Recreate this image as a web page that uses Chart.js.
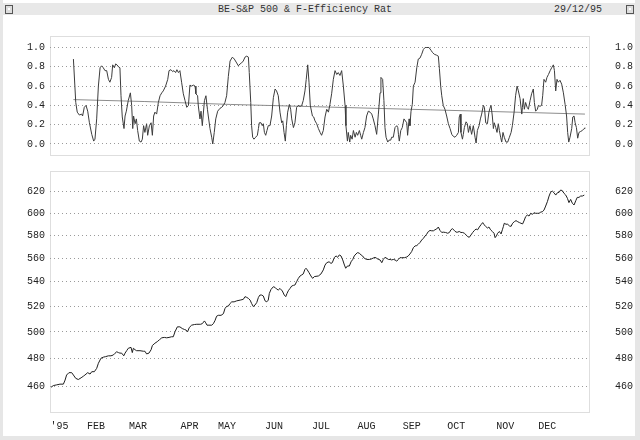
<!DOCTYPE html>
<html lang="en">
<head>
<meta charset="UTF-8">
<title>BE-S&amp;P 500 &amp; F-Efficiency Rat</title>
<script src="https://cdn.jsdelivr.net/npm/chart.js@4.4.1/dist/chart.umd.min.js"></script>
<style>
  body { margin: 0; width: 640px; height: 440px; position: relative; overflow: hidden; background: #fff;
         font-family: "Liberation Mono", monospace; }
  .frame { position: absolute; background: #e6e6e6; z-index: 2; }
  #titlebar { position: absolute; left: 3px; top: 3px; width: 632px; height: 12px; background: #e8e8e8; z-index: 3;
              font-size: 10px; line-height: 12px; color: #333; }
  #title { position: absolute; left: 215px; top: 1px; white-space: pre; }
  #date { position: absolute; left: 551px; top: 1px; }
  .icon { position: absolute; top: 2px; width: 6px; height: 7px; border: 1px solid #555; background: #ddd; }
  .icon i { position: absolute; left: 2px; top: 2px; width: 2px; height: 2px; background: #fff; }
  canvas { position: absolute; left: 0; }
</style>
</head>
<body>
<div id="titlebar">
  <div class="icon" style="left:2px"><i></i></div>
  <span id="title">BE-S&amp;P 500 &amp; F-Efficiency Rat</span>
  <span id="date">29/12/95</span>
  <div class="icon" style="left:623px"><i></i></div>
</div>
<div class="frame" style="left:0;top:0;width:3px;height:440px"></div>
<div class="frame" style="left:635px;top:0;width:5px;height:440px"></div>
<div class="frame" style="left:0;top:436px;width:640px;height:4px"></div>

<canvas id="erChart" width="640" height="159" style="top:16px"></canvas>
<canvas id="priceChart" width="640" height="289" style="top:151px"></canvas>

<script>
// x axis: trading day of 1995 (0 = first session)
const monthDays = [4.0, 21.1, 40.8, 64.9, 82.5, 104.5, 126.5, 147.8, 169.0, 189.9, 212.9, 232.5];
const monthLabels = ["'95", 'FEB', 'MAR', 'APR', 'MAY', 'JUN', 'JUL', 'AUG', 'SEP', 'OCT', 'NOV', 'DEC'];

// efficiency ratio (top panel)
const erTicks = [0, 0.2, 0.4, 0.6, 0.8, 1.0];
const erDays = [10.5, 11.6, 12.3, 13.3, 14.4, 14.8, 15.6, 16.4, 17.2, 18.0, 19.1, 20.0, 20.6, 21.4, 22.2, 23.0, 23.7, 24.5, 25.3, 26.1,
  26.9, 27.6, 28.4, 28.9, 29.7, 30.3, 30.9, 31.6, 32.3, 32.8, 33.4, 34.2, 34.7, 35.3, 36.2, 37.2, 37.8, 38.3, 38.7, 39.4,
  40.0, 40.6, 41.4, 42.2, 42.8, 43.4, 44.0, 44.8, 45.3, 46.1, 46.9, 47.5, 48.1, 48.7, 49.5, 50.3, 51.1, 51.9, 52.6, 53.7,
  54.7, 55.3, 56.2, 57.0, 57.6, 58.4, 59.0, 59.7, 60.4, 61.2, 62.0, 62.8, 63.6, 64.4, 65.1, 65.9, 66.7, 67.5, 67.9, 68.7,
  69.0, 69.8, 70.3, 70.9, 71.9, 72.6, 73.3, 73.7, 74.5, 75.3, 75.8, 76.5, 77.2, 78.1, 79.2, 80.0, 80.8, 81.5, 82.3, 83.1,
  83.9, 85.0, 85.9, 87.0, 87.8, 88.6, 89.3, 90.1, 90.9, 91.7, 92.5, 92.9, 93.6, 94.0, 94.5, 95.1, 95.9, 96.7, 97.2, 97.6,
  98.4, 99.0, 99.5, 100.0, 100.6, 101.2, 101.8, 102.6, 103.4, 104.2, 105.0, 105.7, 106.5, 107.3, 108.1, 108.6, 109.2, 109.8, 110.3, 110.9,
  111.7, 112.3, 112.8, 113.6, 114.3, 115.1, 115.9, 116.7, 117.5, 118.2, 119.0, 119.6, 120.3, 120.9, 121.5, 122.5, 123.1, 123.7, 124.5, 125.3,
  126.1, 126.8, 127.6, 128.4, 129.2, 130.0, 130.7, 131.5, 132.3, 133.1, 133.9, 134.6, 135.4, 136.2, 137.0, 137.8, 138.2, 138.9, 139.3, 140.0,
  140.4, 141.1, 141.7, 142.5, 143.1, 143.7, 144.5, 145.1, 145.6, 146.4, 147.1, 147.9, 148.7, 149.5, 150.3, 151.0, 151.8, 152.6, 153.4, 154.2,
  154.6, 155.4, 156.0, 156.5, 157.0, 157.8, 158.4, 159.2, 159.6, 160.4, 161.2, 162.0, 162.5, 162.8, 163.2, 163.9, 164.6, 165.4, 166.7, 167.1,
  167.8, 168.2, 168.7, 169.3, 169.8, 170.6, 171.4, 172.1, 172.9, 173.7, 174.5, 175.3, 176.0, 177.1, 178.1, 178.7, 179.6, 180.7, 181.5, 182.0,
  182.6, 183.1, 183.8, 184.6, 185.4, 186.2, 187.0, 187.8, 188.5, 189.3, 190.1, 190.9, 191.3, 191.8, 192.1, 192.8, 193.2, 193.7, 194.5, 195.1,
  195.6, 196.3, 197.1, 197.9, 198.7, 199.2, 199.8, 200.6, 201.2, 201.8, 202.6, 203.1, 203.7, 204.5, 205.2, 205.7, 206.2, 206.8, 207.3, 207.7,
  208.4, 209.0, 209.6, 210.1, 210.7, 211.2, 211.8, 212.4, 213.2, 214.0, 214.8, 215.6, 216.2, 217.0, 217.7, 218.4, 219.0, 219.8, 220.6, 220.9,
  221.3, 221.8, 222.4, 223.1, 223.7, 224.5, 225.2, 226.0, 226.5, 227.1, 227.9, 228.4, 229.1, 229.9, 230.4, 231.0, 231.8, 232.4, 233.1, 233.9,
  234.6, 235.4, 235.9, 236.5, 237.1, 237.7, 238.5, 239.3, 240.1, 240.9, 241.6, 242.1, 242.6, 243.2, 244.0, 244.5, 245.1, 245.6, 246.2, 246.8,
  247.4, 248.2, 249.0, 249.8, 250.2];
const erVals = [0.88, 0.43, 0.33, 0.30, 0.31, 0.29, 0.38, 0.40, 0.34, 0.22, 0.10, 0.03, 0.05, 0.26, 0.60, 0.79, 0.81, 0.79, 0.76, 0.76,
  0.67, 0.64, 0.69, 0.82, 0.79, 0.83, 0.82, 0.80, 0.79, 0.50, 0.28, 0.16, 0.29, 0.34, 0.45, 0.53, 0.40, 0.16, 0.29, 0.21,
  0.26, 0.14, 0.03, 0.02, 0.05, 0.19, 0.12, 0.21, 0.09, 0.19, 0.22, 0.09, 0.29, 0.33, 0.31, 0.43, 0.50, 0.53, 0.55, 0.60,
  0.67, 0.76, 0.77, 0.75, 0.76, 0.74, 0.77, 0.74, 0.76, 0.64, 0.52, 0.45, 0.38, 0.40, 0.61, 0.60, 0.61, 0.60, 0.52, 0.50,
  0.40, 0.26, 0.34, 0.19, 0.45, 0.50, 0.36, 0.29, 0.16, 0.07, 0.00, 0.12, 0.26, 0.34, 0.37, 0.38, 0.40, 0.43, 0.50, 0.70,
  0.86, 0.90, 0.88, 0.84, 0.81, 0.83, 0.84, 0.86, 0.90, 0.91, 0.90, 0.74, 0.43, 0.19, 0.07, 0.05, 0.07, 0.09, 0.16, 0.22,
  0.22, 0.19, 0.21, 0.12, 0.09, 0.14, 0.19, 0.19, 0.29, 0.48, 0.57, 0.55, 0.50, 0.33, 0.22, 0.24, 0.12, 0.03, 0.19, 0.33,
  0.41, 0.36, 0.26, 0.17, 0.22, 0.38, 0.40, 0.39, 0.40, 0.45, 0.55, 0.67, 0.82, 0.64, 0.40, 0.29, 0.28, 0.24, 0.21, 0.16,
  0.12, 0.09, 0.14, 0.28, 0.36, 0.33, 0.41, 0.52, 0.67, 0.76, 0.72, 0.74, 0.71, 0.76, 0.60, 0.40, 0.19, 0.03, 0.12, 0.02,
  0.09, 0.05, 0.14, 0.07, 0.12, 0.09, 0.14, 0.09, 0.05, 0.12, 0.17, 0.29, 0.34, 0.33, 0.31, 0.26, 0.19, 0.10, 0.31, 0.53,
  0.69, 0.67, 0.45, 0.17, 0.07, 0.02, 0.04, 0.04, 0.07, 0.07, 0.17, 0.19, 0.17, 0.10, 0.03, 0.14, 0.17, 0.26, 0.22, 0.09,
  0.26, 0.19, 0.34, 0.41, 0.60, 0.64, 0.79, 0.88, 0.89, 0.93, 0.98, 1.00, 1.00, 1.00, 0.97, 0.95, 0.93, 0.92, 0.91, 0.78,
  0.60, 0.50, 0.40, 0.36, 0.29, 0.21, 0.16, 0.10, 0.08, 0.07, 0.09, 0.12, 0.28, 0.31, 0.12, 0.05, 0.10, 0.17, 0.23, 0.21,
  0.12, 0.19, 0.10, 0.19, 0.07, 0.01, 0.14, 0.19, 0.26, 0.31, 0.40, 0.38, 0.22, 0.21, 0.33, 0.37, 0.40, 0.29, 0.16, 0.22,
  0.17, 0.12, 0.21, 0.14, 0.07, 0.02, 0.12, 0.07, 0.02, 0.02, 0.07, 0.12, 0.19, 0.33, 0.50, 0.60, 0.55, 0.47, 0.31, 0.38,
  0.47, 0.36, 0.43, 0.38, 0.36, 0.45, 0.52, 0.57, 0.43, 0.34, 0.36, 0.40, 0.39, 0.40, 0.50, 0.67, 0.64, 0.69, 0.72, 0.76,
  0.79, 0.82, 0.76, 0.55, 0.67, 0.64, 0.66, 0.62, 0.53, 0.41, 0.29, 0.12, 0.02, 0.07, 0.16, 0.28, 0.29, 0.22, 0.17, 0.06,
  0.12, 0.13, 0.14, 0.16, 0.17];
const erAvgDays = [10.5, 44, 84, 168, 250.2];
const erAvgVals = [0.46, 0.44, 0.41, 0.36, 0.31];

// S&P 500 close (bottom panel, log scale)
const priceTicks = [460, 480, 500, 520, 540, 560, 580, 600, 620];
const priceDays = [0, 1.1, 2.7, 4.2, 5.8, 6.6, 7.3, 8.4, 9.7, 10.5, 11.6, 12.8, 14.1, 15.2, 15.9, 17.2, 18.3, 19.1, 20.3, 21.4,
  22.2, 23.4, 24.5, 25.6, 26.9, 28.1, 29.2, 30.0, 30.8, 31.6, 32.3, 33.1, 34.1, 34.7, 35.5, 36.2, 37.5, 38.1, 38.6, 39.4,
  40.1, 41.7, 43.3, 44.0, 44.8, 45.9, 46.9, 47.5, 48.7, 49.8, 50.8, 51.9, 53.1, 54.2, 55.3, 56.5, 57.3, 58.1, 59.2, 60.4,
  61.5, 62.5, 63.3, 64.0, 64.8, 65.9, 67.2, 68.3, 69.4, 70.1, 70.9, 71.9, 72.5, 73.1, 74.0, 75.3, 76.1, 76.9, 77.6, 78.4,
  79.7, 80.8, 81.5, 82.3, 83.1, 83.9, 84.7, 85.8, 87.0, 88.6, 90.1, 90.9, 91.7, 92.5, 93.3, 94.0, 94.8, 95.6, 96.4, 97.2,
  97.9, 98.7, 99.5, 100.3, 101.1, 101.8, 102.3, 103.1, 104.2, 105.0, 105.7, 106.5, 107.3, 108.4, 109.3, 110.0, 110.6, 111.2, 112.0, 112.8,
  113.6, 114.3, 115.1, 115.9, 116.7, 117.5, 118.2, 119.0, 119.5, 120.1, 120.9, 121.8, 122.6, 123.4, 125.3, 126.5, 127.6, 128.4, 129.2, 130.3,
  131.2, 131.8, 132.8, 133.6, 134.3, 135.1, 135.9, 136.7, 137.5, 138.1, 138.9, 139.8, 140.6, 141.4, 142.1, 142.9, 143.7, 144.5, 145.3, 146.0,
  146.8, 147.9, 149.2, 150.0, 151.0, 151.8, 152.6, 153.4, 154.2, 155.0, 155.7, 156.5, 157.3, 158.1, 158.9, 159.6, 160.4, 161.2, 162.0, 162.8,
  163.5, 164.3, 165.6, 166.7, 167.4, 168.2, 169.0, 169.8, 170.6, 171.4, 172.1, 172.9, 173.7, 174.5, 175.3, 176.0, 176.8, 177.6, 178.4, 179.2,
  179.9, 180.7, 181.5, 182.3, 183.1, 183.8, 184.9, 185.9, 186.7, 187.4, 188.1, 189.0, 189.8, 190.6, 191.3, 192.1, 192.9, 193.7, 194.5, 195.3,
  196.0, 196.8, 197.6, 198.4, 199.2, 199.9, 200.7, 201.5, 202.3, 202.9, 203.7, 204.5, 205.2, 206.0, 206.8, 207.6, 208.1, 208.7, 209.3, 210.1,
  210.9, 211.5, 212.0, 212.4, 213.2, 214.0, 214.8, 215.6, 216.3, 217.1, 217.9, 218.7, 219.5, 220.2, 221.0, 221.8, 222.4, 223.2, 224.0, 224.8,
  225.6, 226.3, 227.1, 227.9, 228.7, 229.5, 230.2, 231.0, 231.8, 232.6, 233.4, 234.1, 234.9, 235.7, 236.5, 237.3, 238.1, 238.8, 239.6, 240.4,
  241.2, 242.0, 242.7, 243.5, 244.3, 245.1, 245.9, 246.6, 247.4, 248.2, 249.0, 249.9];
const priceVals = [459.3, 460.5, 461.0, 461.5, 461.5, 464.4, 468.0, 469.7, 469.7, 468.0, 465.6, 464.8, 466.0, 467.2, 468.0, 469.7, 468.7, 470.4, 470.4, 472.8,
  476.5, 480.2, 481.0, 481.4, 482.0, 482.0, 482.6, 483.9, 485.0, 484.4, 484.0, 484.0, 482.0, 484.0, 485.9, 487.6, 488.3, 484.4, 487.6, 486.5,
  485.8, 485.8, 485.4, 485.4, 483.4, 484.0, 486.5, 489.7, 491.4, 492.6, 494.0, 495.5, 495.8, 495.5, 495.8, 496.3, 496.3, 500.1, 503.9, 503.9,
  502.6, 501.9, 501.4, 500.1, 503.4, 505.2, 505.7, 505.9, 505.9, 505.9, 506.4, 508.5, 507.0, 505.2, 505.2, 505.2, 506.4, 509.0, 512.2, 512.9,
  512.9, 514.2, 518.2, 520.0, 520.2, 522.3, 523.6, 523.6, 524.4, 525.0, 525.6, 527.8, 527.2, 526.4, 525.0, 522.3, 519.8, 521.1, 523.0, 527.2,
  529.1, 529.1, 528.3, 524.4, 523.6, 525.0, 530.4, 533.7, 535.9, 535.3, 534.0, 533.2, 534.5, 532.4, 529.1, 527.8, 530.4, 532.6, 534.5, 536.5,
  537.0, 537.3, 540.1, 542.8, 544.8, 545.7, 546.5, 550.4, 551.3, 549.9, 547.6, 544.8, 542.8, 544.3, 544.8, 546.5, 549.9, 554.0, 556.0, 556.8,
  555.4, 556.0, 560.6, 561.8, 560.6, 562.7, 561.8, 558.4, 554.0, 551.3, 553.2, 553.2, 556.8, 558.8, 561.8, 563.5, 564.7, 564.1, 562.7, 561.8,
  559.8, 558.8, 558.8, 559.1, 560.0, 560.6, 559.8, 558.8, 558.4, 556.0, 558.8, 560.6, 559.8, 558.8, 558.8, 558.4, 558.8, 558.4, 557.4, 558.8,
  560.3, 560.3, 560.3, 560.9, 561.8, 563.5, 565.6, 569.0, 570.5, 570.8, 572.0, 573.5, 575.7, 577.2, 579.3, 580.8, 583.2, 584.2, 583.9, 583.9,
  584.8, 585.5, 587.3, 584.2, 582.4, 582.7, 582.4, 581.7, 582.4, 584.8, 585.8, 584.2, 582.7, 582.7, 583.3, 582.4, 582.4, 581.7, 580.2, 578.7,
  578.1, 580.2, 582.4, 584.2, 585.5, 584.8, 587.3, 589.4, 591.3, 589.4, 587.9, 586.4, 587.3, 584.8, 583.3, 581.7, 577.8, 579.3, 581.7, 583.3,
  581.1, 584.8, 587.9, 590.7, 589.8, 589.8, 588.3, 587.9, 590.7, 592.1, 593.1, 592.1, 591.3, 590.7, 590.1, 593.6, 596.7, 598.2, 597.3, 599.8,
  598.8, 600.3, 599.8, 599.8, 599.8, 600.9, 601.2, 602.7, 606.5, 610.6, 615.9, 619.4, 620.6, 619.0, 616.8, 619.0, 619.4, 621.6, 621.0, 618.4,
  616.8, 613.7, 609.7, 612.7, 609.1, 607.5, 611.5, 614.6, 614.6, 615.9, 615.9, 616.8];

const xMin = -0.47, xMax = 252.1;
const labelFont = { family: '"Liberation Mono", monospace', size: 10 };
const textColor = '#222';

const toPoints = (xs, ys) => xs.map((x, i) => ({ x: x, y: ys[i] }));

// light frame round each plot area
const panelFrame = {
  id: 'panelFrame',
  beforeDraw(chart) {
    const a = chart.chartArea, ctx = chart.ctx;
    ctx.save();
    ctx.strokeStyle = '#dedede';
    ctx.lineWidth = 1;
    ctx.strokeRect(a.left + 0.5, a.top + 0.5, a.right - a.left, a.bottom - a.top);
    ctx.restore();
  }
};

// left axis draws the dotted grid; right axis only repeats the labels.
// an invisible tick length pushes the right labels out without adding vertical padding.
function yAxis(side, type, min, max, tickList, fmt) {
  const left = side === 'left';
  return {
    type: type,
    position: side,
    min: min,
    max: max,
    bounds: 'data',
    afterBuildTicks: s => { s.ticks = tickList.map(v => ({ value: v })); },
    afterFit: s => { s.width = left ? 50 : 51; },
    grid: left
      ? { display: true, color: '#9a9a9a', lineWidth: 1, drawTicks: true, tickLength: 2, tickColor: 'rgba(0,0,0,0)' }
      : { display: false, drawTicks: true, tickLength: 23 },
    border: { display: false, dash: [1, 3] },
    ticks: { padding: 3, font: labelFont, color: textColor, callback: fmt }
  };
}

const baseOptions = {
  responsive: false,
  animation: false,
  events: [],
  plugins: { legend: { display: false }, tooltip: { enabled: false } }
};

new Chart(document.getElementById('erChart'), {
  type: 'line',
  data: {
    datasets: [
      { data: toPoints(erDays, erVals), borderColor: '#3c3c3c', borderWidth: 1, pointRadius: 0, tension: 0 },
      { data: toPoints(erAvgDays, erAvgVals), borderColor: '#8c8c8c', borderWidth: 1, pointRadius: 0, tension: 0 }
    ]
  },
  options: Object.assign({}, baseOptions, {
    layout: { padding: { top: 20, bottom: 20, left: 0, right: 0 } },
    scales: {
      x: { type: 'linear', min: xMin, max: xMax, display: false },
      y: yAxis('left', 'linear', -0.114, 1.119, erTicks, v => v.toFixed(1)),
      y2: yAxis('right', 'linear', -0.114, 1.119, erTicks, v => v.toFixed(1))
    }
  }),
  plugins: [panelFrame]
});

new Chart(document.getElementById('priceChart'), {
  type: 'line',
  data: {
    datasets: [
      { data: toPoints(priceDays, priceVals), borderColor: '#1e1e1e', borderWidth: 1, pointRadius: 0, tension: 0 }
    ]
  },
  options: Object.assign({}, baseOptions, {
    layout: { padding: { top: 20, bottom: 0, left: 0, right: 0 } },
    scales: {
      x: {
        type: 'linear', min: xMin, max: xMax, bounds: 'data',
        afterBuildTicks: s => { s.ticks = monthDays.map(v => ({ value: v })); },
        afterFit: s => { s.height = 28; },
        grid: { display: false, drawTicks: false },
        border: { display: false },
        ticks: { autoSkip: false, maxRotation: 0, padding: 8, font: labelFont, color: textColor,
                 callback: (v, i) => monthLabels[i] }
      },
      y: yAxis('left', 'logarithmic', 442.2, 640, priceTicks, v => String(v)),
      y2: yAxis('right', 'logarithmic', 442.2, 640, priceTicks, v => String(v))
    }
  }),
  plugins: [panelFrame]
});
</script>
</body>
</html>
